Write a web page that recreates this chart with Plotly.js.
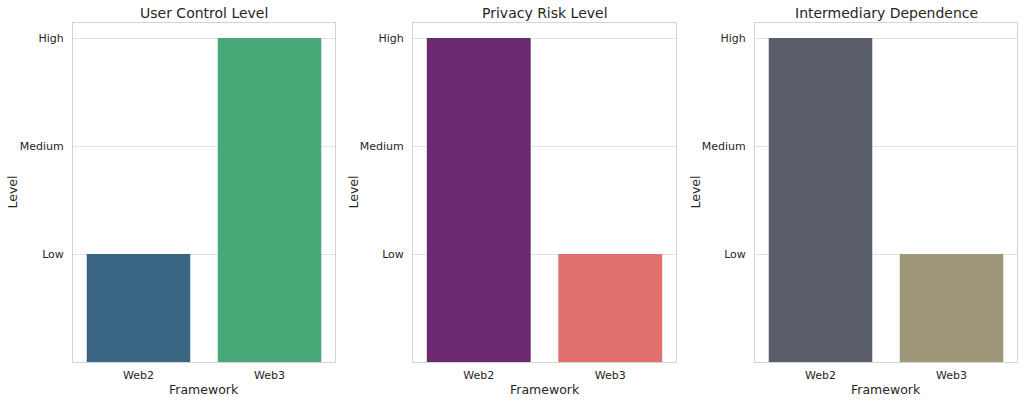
<!DOCTYPE html>
<html><head><meta charset="utf-8">
<script src="https://cdn.plot.ly/plotly-3.0.1.min.js"></script>
<style>html,body{margin:0;padding:0;background:#fff}#chart{width:1024px;height:403px}</style>
</head><body><div id="chart"></div>
<script>
const frameworks = ["Web2", "Web3"];
const panelTitles = ["User Control Level", "Privacy Risk Level", "Intermediary Dependence"];
const userControl = [1, 3];
const privacyRisk = [3, 1];
const intermediaryDependence = [3, 1];
const levelTickVals = [1, 2, 3];
const levelTickText = ["Low", "Medium", "High"];
const colorsUser = ["#3b6683", "#49a878"];
const colorsPrivacy = ["#6a2971", "#e06f6e"];
const colorsInter = ["#595c69", "#9e9779"];

const series = [userControl, privacyRisk, intermediaryDependence];
const colors = [colorsUser, colorsPrivacy, colorsInter];
const xDomains = [[73/1024, 335/1024], [413/1024, 676/1024], [755/1024, 1017/1024]];
const yDomain = [1 - 362/403, 1 - 23/403];
const font = "DejaVu Sans, sans-serif";

const data = series.map((vals, i) => ({
  type: "bar",
  x: frameworks,
  y: vals,
  marker: {color: colors[i], line: {width: 0}},
  width: 0.79,
  xaxis: "x" + (i ? i + 1 : ""),
  yaxis: "y" + (i ? i + 1 : ""),
  hoverinfo: "x+y",
  showlegend: false
}));

const layout = {
  width: 1024, height: 403,
  margin: {l: 0, r: 0, t: 0, b: 0},
  paper_bgcolor: "#fff", plot_bgcolor: "#fff",
  font: {family: font, color: "#262626", size: 11},
  annotations: []
};
for (let i = 0; i < 3; i++) {
  const s = i ? String(i + 1) : "";
  layout["xaxis" + s] = {
    domain: xDomains[i], anchor: "y" + s,
    range: [-0.5, 1.5], type: "category",
    showgrid: false, zeroline: false,
    showline: true, mirror: true, linecolor: "#d4d4d4", linewidth: 1,
    ticks: "", ticklabelstandoff: 3,
    tickfont: {family: font, size: 11, color: "#262626"}
  };
  layout["yaxis" + s] = {
    domain: yDomain, anchor: "x" + s,
    range: [0, 3.14],
    tickvals: levelTickVals, ticktext: levelTickText,
    showgrid: true, gridcolor: "#e3e3e3", gridwidth: 1,
    zeroline: false,
    showline: true, mirror: true, linecolor: "#d4d4d4", linewidth: 1,
    ticks: "", ticklabelstandoff: 6,
    tickfont: {family: font, size: 11, color: "#262626"}
  };
  const cx = (xDomains[i][0] + xDomains[i][1]) / 2;
  layout.annotations.push({
    text: panelTitles[i], xref: "paper", yref: "paper",
    x: cx, y: 1 - 13/403, xanchor: "center", yanchor: "middle",
    showarrow: false, font: {family: font, size: 14, color: "#262626"}
  });
  layout.annotations.push({
    text: "Framework", xref: "paper", yref: "paper",
    x: cx, y: 1 - 389/403, xanchor: "center", yanchor: "middle",
    showarrow: false, font: {family: font, size: 12.5, color: "#262626"}
  });
  const lx = [12, 353, 695][i];
  layout.annotations.push({
    text: "Level", xref: "paper", yref: "paper", textangle: -90,
    x: lx/1024, y: (yDomain[0] + yDomain[1]) / 2, xanchor: "center", yanchor: "middle",
    showarrow: false, font: {family: font, size: 12.5, color: "#262626"}
  });
}
Plotly.newPlot("chart", data, layout, {displayModeBar: false, staticPlot: true});
</script></body></html>
